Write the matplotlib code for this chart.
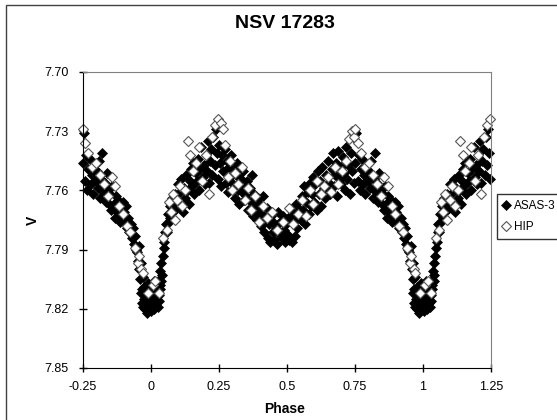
import numpy as np
import matplotlib.pyplot as plt
from matplotlib.patches import Rectangle

plt.rcParams['font.family'] = ['Liberation Sans', 'DejaVu Sans']

# folded light curve, phase 0..1
asas_phase = [0.001, 0.003, 0.005, 0.008, 0.010, 0.012, 0.014, 0.017, 0.019, 0.021, 0.024, 0.026, 0.028, 0.031, 0.033, 0.036,
              0.039, 0.042, 0.045, 0.048, 0.030, 0.035, 0.040,
              0.051, 0.054, 0.057, 0.060, 0.063, 0.066, 0.070, 0.073, 0.077, 0.081, 0.085, 0.090, 0.095,
              0.101, 0.105, 0.109, 0.113, 0.118, 0.122, 0.127, 0.131, 0.136, 0.140, 0.145, 0.149,
              0.152, 0.156, 0.160, 0.165, 0.169, 0.173, 0.178, 0.182, 0.186, 0.191, 0.195, 0.199,
              0.202, 0.206, 0.210, 0.214, 0.218, 0.222, 0.227, 0.231, 0.235, 0.239, 0.243, 0.247,
              0.251, 0.255, 0.259, 0.263, 0.267, 0.272, 0.276, 0.280, 0.285, 0.289, 0.293, 0.297,
              0.301, 0.305, 0.309, 0.313, 0.318, 0.322, 0.326, 0.331, 0.335, 0.339, 0.343, 0.348,
              0.351, 0.355, 0.359, 0.364, 0.368, 0.372, 0.376, 0.381, 0.385, 0.389, 0.393, 0.397,
              0.401, 0.405, 0.409, 0.414, 0.418, 0.422, 0.427, 0.431, 0.435, 0.439, 0.444, 0.448,
              0.451, 0.455, 0.460, 0.464, 0.468, 0.472, 0.476, 0.481, 0.485, 0.489, 0.493, 0.497,
              0.501, 0.505, 0.509, 0.514, 0.518, 0.522, 0.526, 0.531, 0.535, 0.539, 0.543, 0.548,
              0.551, 0.555, 0.559, 0.564, 0.568, 0.572, 0.577, 0.581, 0.585, 0.589, 0.594, 0.598,
              0.601, 0.605, 0.610, 0.614, 0.618, 0.622, 0.627, 0.631, 0.635, 0.640, 0.644, 0.648,
              0.652, 0.656, 0.660, 0.665, 0.669, 0.673, 0.677, 0.682, 0.686, 0.690, 0.694, 0.698,
              0.701, 0.705, 0.709, 0.713, 0.718, 0.722, 0.726, 0.731, 0.735, 0.739, 0.744, 0.748,
              0.752, 0.756, 0.760, 0.764, 0.768, 0.772, 0.777, 0.781, 0.785, 0.789, 0.794, 0.798,
              0.802, 0.806, 0.810, 0.815, 0.819, 0.823, 0.827, 0.832, 0.836, 0.840, 0.844, 0.848,
              0.852, 0.856, 0.860, 0.865, 0.869, 0.873, 0.877, 0.882, 0.886, 0.890, 0.894, 0.898,
              0.902, 0.906, 0.910, 0.914, 0.918, 0.922, 0.927, 0.931, 0.935, 0.939, 0.943, 0.947,
              0.950, 0.953, 0.956, 0.959, 0.962, 0.965, 0.968, 0.971, 0.974, 0.977, 0.980, 0.983, 0.986, 0.989,
              0.992, 0.995, 0.998, 0.963, 0.967, 0.972]
asas_v = [7.816, 7.821, 7.809, 7.818, 7.812, 7.806, 7.820, 7.814, 7.808, 7.817, 7.811, 7.819, 7.806, 7.813, 7.808, 7.801,
          7.797, 7.803, 7.793, 7.789, 7.816, 7.810, 7.806,
          7.786, 7.781, 7.777, 7.781, 7.772, 7.776, 7.768, 7.774, 7.764, 7.771, 7.766, 7.762, 7.769,
          7.757, 7.768, 7.761, 7.754, 7.771, 7.759, 7.764, 7.752, 7.760, 7.767, 7.755, 7.749,
          7.758, 7.746, 7.762, 7.751, 7.755, 7.744, 7.760, 7.749, 7.738, 7.753, 7.747, 7.757,
          7.742, 7.750, 7.735, 7.756, 7.745, 7.739, 7.752, 7.733, 7.747, 7.729, 7.741, 7.754,
          7.737, 7.746, 7.758, 7.742, 7.750, 7.739, 7.756, 7.745, 7.761, 7.748, 7.753, 7.742,
          7.757, 7.749, 7.764, 7.752, 7.746, 7.760, 7.767, 7.754, 7.761, 7.750, 7.765, 7.758,
          7.763, 7.755, 7.770, 7.759, 7.766, 7.752, 7.773, 7.762, 7.768, 7.775, 7.764, 7.771,
          7.767, 7.778, 7.772, 7.763, 7.781, 7.775, 7.769, 7.784, 7.777, 7.786, 7.773, 7.781,
          7.776, 7.785, 7.779, 7.787, 7.771, 7.782, 7.776, 7.784, 7.773, 7.780, 7.786, 7.777,
          7.782, 7.774, 7.785, 7.770, 7.786, 7.776, 7.772, 7.783, 7.767, 7.779, 7.774, 7.770,
          7.775, 7.763, 7.770, 7.758, 7.777, 7.766, 7.761, 7.772, 7.756, 7.768, 7.762, 7.753,
          7.766, 7.757, 7.770, 7.750, 7.762, 7.755, 7.768, 7.748, 7.759, 7.764, 7.752, 7.760,
          7.745, 7.756, 7.762, 7.749, 7.741, 7.758, 7.752, 7.746, 7.763, 7.740, 7.754, 7.748,
          7.757, 7.743, 7.751, 7.760, 7.738, 7.754, 7.747, 7.762, 7.741, 7.750, 7.733, 7.756,
          7.746, 7.731, 7.755, 7.742, 7.760, 7.749, 7.744, 7.757, 7.752, 7.762, 7.747, 7.755,
          7.750, 7.759, 7.745, 7.764, 7.754, 7.741, 7.761, 7.756, 7.766, 7.751, 7.760, 7.767,
          7.762, 7.770, 7.758, 7.767, 7.774, 7.763, 7.771, 7.765, 7.776, 7.769, 7.773, 7.766,
          7.771, 7.776, 7.768, 7.779, 7.774, 7.781, 7.777, 7.784, 7.779, 7.787, 7.783, 7.790,
          7.791, 7.796, 7.788, 7.800, 7.805, 7.797, 7.810, 7.804, 7.815, 7.809, 7.820, 7.813, 7.822, 7.816,
          7.807, 7.819, 7.812, 7.812, 7.817, 7.819]

hip_phase = [0.008, 0.018, 0.030, 0.047, 0.060, 0.066, 0.074, 0.082, 0.090, 0.098, 0.108,
             0.117, 0.128, 0.138, 0.146, 0.155, 0.168, 0.178, 0.190, 0.203, 0.214,
             0.226, 0.236, 0.246, 0.257, 0.266, 0.274, 0.283, 0.291, 0.300, 0.311,
             0.322, 0.334, 0.346, 0.358, 0.370, 0.383, 0.398, 0.412, 0.428, 0.447,
             0.466, 0.487, 0.508, 0.524, 0.541, 0.557, 0.571, 0.586, 0.598, 0.611,
             0.624, 0.637, 0.650, 0.662, 0.676, 0.690, 0.704, 0.717, 0.729, 0.738,
             0.746, 0.752, 0.760, 0.772, 0.786, 0.801, 0.816, 0.830, 0.845, 0.858,
             0.871, 0.885, 0.899, 0.912, 0.926, 0.941, 0.952, 0.958, 0.966, 0.971, 0.989]
hip_v = [7.808, 7.806, 7.812, 7.784, 7.780, 7.766, 7.771, 7.762, 7.775, 7.765, 7.758,
         7.768, 7.760, 7.735, 7.742, 7.750, 7.746, 7.738, 7.755, 7.742, 7.762,
         7.733, 7.727, 7.724, 7.726, 7.729, 7.737, 7.753, 7.745, 7.760, 7.751,
         7.757, 7.748, 7.765, 7.759, 7.770, 7.763, 7.776, 7.768, 7.774, 7.771,
         7.780, 7.776, 7.769, 7.777, 7.772, 7.765, 7.773, 7.760, 7.767, 7.755,
         7.762, 7.758, 7.753, 7.761, 7.748, 7.757, 7.750, 7.745, 7.734, 7.730,
         7.733, 7.729, 7.736, 7.741, 7.748, 7.746, 7.752, 7.757, 7.763, 7.753,
         7.758, 7.768, 7.772, 7.778, 7.781, 7.789, 7.797, 7.793, 7.800, 7.802, 7.812]

x_ticks = [-0.25, 0, 0.25, 0.5, 0.75, 1, 1.25]
x_tick_labels = ['-0.25', '0', '0.25', '0.5', '0.75', '1', '1.25']
y_ticks = [7.70, 7.73, 7.76, 7.79, 7.82, 7.85]


def extend(phase, v):
    # repeat the end of the cycle before 0 and the start after 1
    phase = np.array(phase)
    v = np.array(v)
    late = phase >= 0.75
    early = phase <= 0.25
    p = np.concatenate([phase[late] - 1, phase, phase[early] + 1])
    m = np.concatenate([v[late], v, v[early]])
    return p, m


W, H = 557, 420
fig = plt.figure(figsize=(W / 100, H / 100), dpi=100)
# chart area border (runs off the right and bottom of the image)
fig.patches.append(Rectangle((6 / W, -0.1), 1.2, 1.1 - 5.5 / H, transform=fig.transFigure,
                             fill=False, edgecolor='#404040', linewidth=1.0))
ax = fig.add_axes([82.5 / W, 52 / H, 408.5 / W, 296 / H])

pa, va = extend(asas_phase, asas_v)
ph, vh = extend(hip_phase, hip_v)
ax.plot(pa, va, linestyle='none', marker='D', markersize=4.8, markerfacecolor='black',
        markeredgecolor='black', markeredgewidth=0.5, label='ASAS-3', clip_on=False)
ax.plot(ph, vh, linestyle='none', marker='D', markersize=4.8, markerfacecolor='white',
        markeredgecolor='#555555', markeredgewidth=0.8, label='HIP', clip_on=False)

ax.set_xlim(-0.25, 1.25)
ax.set_ylim(7.85, 7.70)
ax.set_xticks(x_ticks)
ax.set_xticklabels(x_tick_labels)
ax.set_yticks(y_ticks)
ax.set_yticklabels(['%.2f' % t for t in y_ticks])
ax.tick_params(direction='inout', length=6, width=1, labelsize=9, colors='black')
ax.tick_params(axis='x', pad=6)
ax.tick_params(axis='y', pad=7)

for s in ['top', 'right']:
    ax.spines[s].set_color('#808080')
for s in ['left', 'bottom']:
    ax.spines[s].set_color('black')

fig.text(285 / W, 1 - 24 / H, 'NSV 17283', fontsize=14, fontweight='bold', ha='center', va='center')
fig.text(285 / W, 1 - 409 / H, 'Phase', fontsize=10, fontweight='bold', ha='center', va='center')
fig.text(33 / W, 1 - 220 / H, 'V', fontsize=10, fontweight='bold', ha='center', va='center', rotation=90)

leg = fig.legend(loc='upper left', bbox_to_anchor=(497 / W, 1 - 194 / H), fontsize=8.5,
                 frameon=True, fancybox=False, edgecolor='black', borderpad=0.5,
                 handletextpad=0.3, handlelength=0.6, labelspacing=0.75, borderaxespad=0)
leg.get_frame().set_linewidth(1.0)

fig.savefig('out.png', dpi=100)
